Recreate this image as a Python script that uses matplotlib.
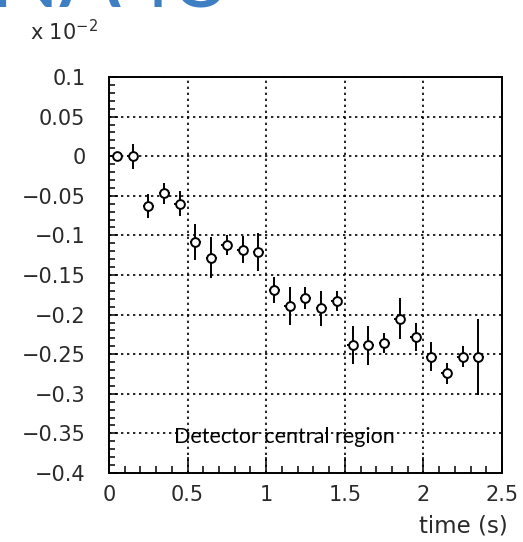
import numpy as np
import matplotlib
matplotlib.use('Agg')
import matplotlib.pyplot as plt
from matplotlib.ticker import MultipleLocator, FuncFormatter

# time bin centres (s)
time = [0.05, 0.15, 0.25, 0.35, 0.45, 0.55, 0.65, 0.75, 0.85, 0.95,
        1.05, 1.15, 1.25, 1.35, 1.45, 1.55, 1.65, 1.75, 1.85, 1.95,
        2.05, 2.15, 2.25, 2.35]
# values in units of 10^-2
value = [0.0, 0.0, -0.063, -0.047, -0.060, -0.108, -0.128, -0.112, -0.118, -0.121,
         -0.169, -0.189, -0.179, -0.192, -0.183, -0.238, -0.239, -0.236, -0.205, -0.228,
         -0.253, -0.274, -0.253, -0.254]
error = [0.004, 0.016, 0.015, 0.013, 0.016, 0.023, 0.026, 0.013, 0.017, 0.024,
         0.016, 0.024, 0.014, 0.022, 0.013, 0.024, 0.024, 0.013, 0.026, 0.018,
         0.018, 0.013, 0.013, 0.048]
time_half_width = 0.035

xticks = [0, 0.5, 1, 1.5, 2, 2.5]

fig = plt.figure(figsize=(5.23, 5.42), dpi=100)
ax = fig.add_axes([0.2084, 0.1273, 0.7514, 0.7306])

ax.errorbar(time, value, yerr=error, xerr=time_half_width, fmt='o', color='black',
            mfc='white', mec='black', ms=6.3, mew=1.4, elinewidth=1.4, capsize=0, zorder=3)

ax.set_xlim(0, 2.5)
ax.set_ylim(-0.4, 0.1)
ax.set_xticks(xticks)
ax.xaxis.set_minor_locator(MultipleLocator(0.1))
ax.yaxis.set_major_locator(MultipleLocator(0.05))
ax.yaxis.set_minor_locator(MultipleLocator(0.01))

def fmt(v, pos):
    s = '%g' % round(v, 3)
    return s.replace('-', '\u2212')

ax.xaxis.set_major_formatter(FuncFormatter(fmt))
ax.yaxis.set_major_formatter(FuncFormatter(fmt))

ax.grid(True, which='major', color='black', linestyle=(0, (1.4, 2.2)), linewidth=1.2)
ax.tick_params(which='both', direction='in', top=False, right=False, color='black',
               width=1.1, labelsize=15, labelcolor='#2a2a2a', labelfontfamily='DejaVu Sans')
ax.tick_params(axis='x', which='major', length=11.5, pad=8.5)
ax.tick_params(axis='x', which='minor', length=5.4)
ax.tick_params(axis='y', which='major', length=6.5, pad=17)
ax.tick_params(axis='y', which='minor', length=4.5)
for sp in ax.spines.values():
    sp.set_linewidth(1.4)

fig.text(0.971, 0.030, 'time (s)', ha='right', va='center', fontsize=16.5,
         family='DejaVu Sans', color='#2a2a2a')
fig.text(0.057, 0.942, r'x 10$^{-2}$', ha='left', va='center', fontsize=15,
         family='DejaVu Sans', color='#2a2a2a')
ax.text(1.116, -0.355, 'Detector central region', ha='center', va='center', fontsize=15.5,
        family='Lato', color='black')

# blue title, cut off by the top edge
fig.text(-0.02, 0.987, 'NA48', ha='left', va='baseline', fontsize=66,
         family='Lato', color='#3d7fc2')

fig.savefig('out.png', dpi=100)
